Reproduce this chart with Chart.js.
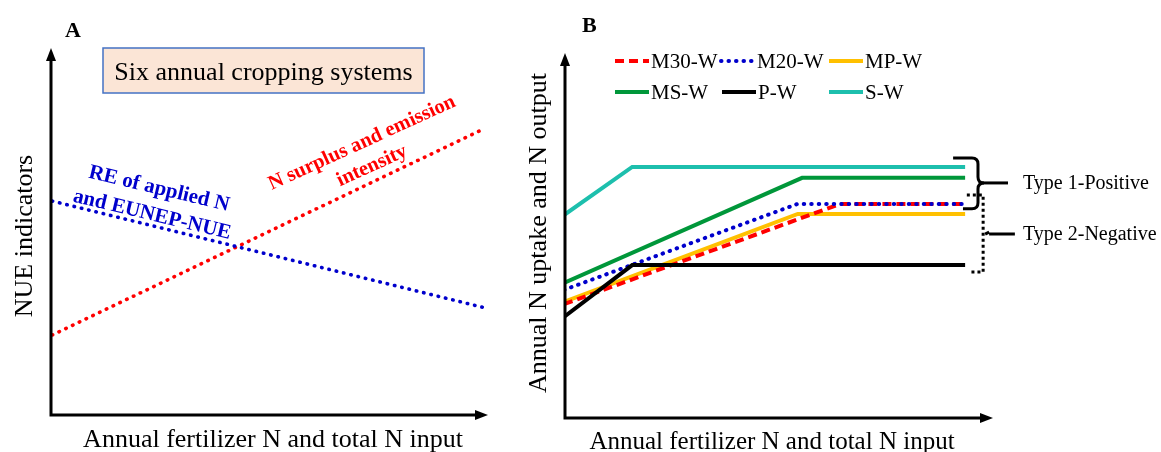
<!DOCTYPE html>
<html><head><meta charset="utf-8">
<script src="https://cdn.jsdelivr.net/npm/chart.js@4/dist/chart.umd.min.js"></script>
<style>
html,body{margin:0;padding:0;background:#fff;}
#wrap{position:relative;width:1161px;height:452px;}
canvas{position:absolute;left:0;top:0;}
</style></head><body>
<div id="wrap"><canvas id="cA" width="1161" height="452"></canvas><canvas id="cB" width="1161" height="452"></canvas></div>
<script>
// ---------- Panel A data (conceptual, arbitrary units 0-100) ----------
const xRE = [0.5, 99.3];
const yRE = [58.3, 29.2];
const xSurplus = [0.5, 98.6];
const ySurplus = [21.8, 77.7];
const labelsA = ['RE of applied N', 'and EUNEP-NUE', 'N surplus and emission', 'intensity'];

// ---------- Panel B data ----------
const systems = ['M30-W', 'M20-W', 'MP-W', 'MS-W', 'P-W', 'S-W'];
const xM30 = [0, 64.3, 93.5]; const yM30 = [31.2, 58.6, 58.6];
const xM20 = [0, 54.3, 93.5]; const yM20 = [35.1, 58.6, 58.6];
const xMP  = [0, 54.5, 93.5]; const yMP  = [31.8, 55.9, 55.9];
const xMS  = [0, 55.5, 93.5]; const yMS  = [37.0, 65.8, 65.8];
const xP   = [0, 15.9, 93.5]; const yP   = [27.7, 41.9, 41.9];
const xS   = [0, 15.9, 93.5]; const yS   = [55.6, 68.8, 68.8];
const typeLabels = ['Type 1-Positive', 'Type 2-Negative'];
// bracket anchors in data units: spine x, top, mid, bottom, top-left x, bottom-left x, tip x
const brace1 = [96.5, 71.2, 64.4, 57.3, 90.7, 93.0, 103.5];
const brace2 = [97.7, 61.1, 50.4, 40.0, 93.9, 94.9, 105.1];
const typeLabelX = 107.0;

const SERIF = '"Liberation Serif","Times New Roman",Times,serif';

function pts(xs, ys) { return xs.map((x, i) => ({x: x, y: ys[i]})); }

function arrowAxes(ctx, ca) {
  ctx.save();
  ctx.strokeStyle = '#000'; ctx.fillStyle = '#000'; ctx.lineWidth = 3;
  const L = ca.left + 1, B = ca.bottom;
  ctx.beginPath();
  ctx.moveTo(L, ca.top + 10); ctx.lineTo(L, B); ctx.lineTo(ca.right - 10, B);
  ctx.stroke();
  ctx.beginPath();
  ctx.moveTo(L, ca.top); ctx.lineTo(L - 5, ca.top + 13); ctx.lineTo(L + 5, ca.top + 13); ctx.closePath(); ctx.fill();
  ctx.beginPath();
  ctx.moveTo(ca.right, B); ctx.lineTo(ca.right - 13, B - 5); ctx.lineTo(ca.right - 13, B + 5); ctx.closePath(); ctx.fill();
  ctx.restore();
}

function rotText(ctx, txt, x, y, ang, font, color) {
  ctx.save();
  ctx.translate(x, y); ctx.rotate(ang * Math.PI / 180);
  ctx.font = font; ctx.fillStyle = color; ctx.textAlign = 'center'; ctx.textBaseline = 'middle';
  ctx.fillText(txt, 0, 0);
  ctx.restore();
}

const decoA = {
  id: 'decoA',
  afterDatasetsDraw(chart) {
    const ctx = chart.ctx, ca = chart.chartArea;
    arrowAxes(ctx, ca);
    ctx.save();
    ctx.font = 'bold 22px ' + SERIF; ctx.fillStyle = '#000'; ctx.textAlign = 'left'; ctx.textBaseline = 'alphabetic';
    ctx.fillText('A', 65, 37);
    ctx.fillStyle = '#FBE5D6'; ctx.fillRect(103, 48, 321, 45);
    ctx.strokeStyle = '#4472C4'; ctx.lineWidth = 1.5; ctx.strokeRect(103, 48, 321, 45);
    ctx.fillStyle = '#000'; ctx.font = '26px ' + SERIF; ctx.textAlign = 'center';
    ctx.fillText('Six annual cropping systems', 263.5, 80);
    ctx.font = '26px ' + SERIF;
    ctx.fillText('Annual fertilizer N and total N input', 273, 447);
    ctx.translate(32, 236); ctx.rotate(-Math.PI / 2);
    ctx.fillText('NUE indicators', 0, 0);
    ctx.restore();
    rotText(ctx, labelsA[0], 159, 189, 13.5, 'bold 21px ' + SERIF, '#0000CC');
    rotText(ctx, labelsA[1], 152, 215, 13.5, 'bold 21px ' + SERIF, '#0000CC');
    rotText(ctx, labelsA[2], 362, 143, -24.5, 'bold 20.5px ' + SERIF, '#FF0000');
    rotText(ctx, labelsA[3], 372, 166, -24.5, 'bold 20.5px ' + SERIF, '#FF0000');
  }
};

const dotted = {borderWidth: 3.6, borderDash: [0.5, 7], borderCapStyle: 'round'};

new Chart(document.getElementById('cA'), {
  type: 'line',
  data: {
    datasets: [
      Object.assign({label: 'RE', data: pts(xRE, yRE), borderColor: '#0000CC'}, dotted),
      Object.assign({label: 'Surplus', data: pts(xSurplus, ySurplus), borderColor: '#FF0000'}, dotted)
    ]
  },
  options: {
    responsive: false, animation: false, devicePixelRatio: 1,
    layout: {padding: {left: 50, right: 673, top: 48, bottom: 37}},
    elements: {point: {radius: 0}, line: {tension: 0}},
    plugins: {legend: {display: false}, tooltip: {enabled: false}},
    scales: {
      x: {type: 'linear', min: 0, max: 100, display: false},
      y: {type: 'linear', min: 0, max: 100, display: false}
    }
  },
  plugins: [decoA]
});

const decoB = {
  id: 'decoB',
  afterDatasetsDraw(chart) {
    const ctx = chart.ctx, ca = chart.chartArea;
    const xs = chart.scales.x, ys = chart.scales.y;
    const X = v => xs.getPixelForValue(v), Y = v => ys.getPixelForValue(v);
    arrowAxes(ctx, ca);
    ctx.save();
    ctx.font = 'bold 22px ' + SERIF; ctx.fillStyle = '#000'; ctx.textAlign = 'left'; ctx.textBaseline = 'alphabetic';
    ctx.fillText('B', 582, 32);
    ctx.font = '25px ' + SERIF; ctx.textAlign = 'center';
    ctx.fillText('Annual fertilizer N and total N input', 772, 449);
    ctx.save();
    ctx.font = '26px ' + SERIF;
    ctx.translate(546, 233); ctx.rotate(-Math.PI / 2);
    ctx.fillText('Annual N uptake and N output', 0, 0);
    ctx.restore();
    const legendPos = {
      'M30-W': [615, 61], 'M20-W': [721, 61], 'MP-W': [829, 61],
      'MS-W': [615, 92], 'P-W': [722, 92], 'S-W': [829, 92]
    };
    chart.data.datasets.forEach(ds => {
      const p = legendPos[ds.label];
      ctx.save();
      ctx.strokeStyle = ds.borderColor; ctx.lineWidth = ds.borderWidth;
      ctx.setLineDash(ds.borderDash || []); ctx.lineCap = ds.borderCapStyle || 'butt';
      ctx.beginPath(); ctx.moveTo(p[0], p[1]); ctx.lineTo(p[0] + 34, p[1]); ctx.stroke();
      ctx.restore();
      ctx.font = '21px ' + SERIF; ctx.fillStyle = '#000'; ctx.textAlign = 'left'; ctx.textBaseline = 'middle';
      ctx.fillText(ds.label, p[0] + 36, p[1] + 1);
    });
    const b1 = brace1;
    const sx = X(b1[0]), t = Y(b1[1]), m = Y(b1[2]), bt = Y(b1[3]);
    ctx.strokeStyle = '#000'; ctx.lineWidth = 3; ctx.setLineDash([]);
    ctx.beginPath();
    ctx.moveTo(X(b1[4]), t); ctx.lineTo(sx - 6, t); ctx.quadraticCurveTo(sx, t, sx, t + 6);
    ctx.lineTo(sx, m - 6); ctx.quadraticCurveTo(sx, m, sx + 6, m);
    ctx.quadraticCurveTo(sx, m, sx, m + 6);
    ctx.lineTo(sx, bt - 6); ctx.quadraticCurveTo(sx, bt, sx - 6, bt); ctx.lineTo(X(b1[5]), bt);
    ctx.stroke();
    ctx.beginPath(); ctx.moveTo(sx + 4, m); ctx.lineTo(X(b1[6]), m); ctx.stroke();
    const b2 = brace2;
    const sx2 = X(b2[0]), t2 = Y(b2[1]), m2 = Y(b2[2]), bt2 = Y(b2[3]);
    ctx.setLineDash([3, 3]);
    ctx.beginPath();
    ctx.moveTo(X(b2[4]), t2); ctx.lineTo(sx2, t2); ctx.lineTo(sx2, bt2); ctx.lineTo(X(b2[5]), bt2);
    ctx.stroke();
    ctx.setLineDash([]);
    ctx.beginPath(); ctx.moveTo(sx2 + 2, m2); ctx.lineTo(sx2 + 6, m2 - 2); ctx.moveTo(sx2 + 6, m2); ctx.lineTo(X(b2[6]), m2); ctx.stroke();
    ctx.font = '20px ' + SERIF; ctx.fillStyle = '#000'; ctx.textAlign = 'left'; ctx.textBaseline = 'middle';
    ctx.fillText(typeLabels[0], X(typeLabelX), m + 1);
    ctx.fillText(typeLabels[1], X(typeLabelX), m2 + 1);
    ctx.restore();
  }
};

new Chart(document.getElementById('cB'), {
  type: 'line',
  data: {
    datasets: [
      {label: systems[0], data: pts(xM30, yM30), borderColor: '#FF0000', borderWidth: 4, borderDash: [9, 5], order: 2},
      {label: systems[1], data: pts(xM20, yM20), borderColor: '#0000CC', borderWidth: 4, borderDash: [0.5, 7], borderCapStyle: 'round', order: 1},
      {label: systems[2], data: pts(xMP, yMP), borderColor: '#FFC000', borderWidth: 4, order: 3},
      {label: systems[3], data: pts(xMS, yMS), borderColor: '#00973A', borderWidth: 4, order: 4},
      {label: systems[4], data: pts(xP, yP), borderColor: '#000000', borderWidth: 4, order: 0},
      {label: systems[5], data: pts(xS, yS), borderColor: '#1DBFAD', borderWidth: 4, order: 5}
    ]
  },
  options: {
    responsive: false, animation: false, devicePixelRatio: 1,
    layout: {padding: {left: 564, right: 168, top: 53, bottom: 34}},
    elements: {point: {radius: 0}, line: {tension: 0}},
    plugins: {legend: {display: false}, tooltip: {enabled: false}},
    scales: {
      x: {type: 'linear', min: 0, max: 100, display: false},
      y: {type: 'linear', min: 0, max: 100, display: false}
    }
  },
  plugins: [decoB]
});
</script>
</body></html>
